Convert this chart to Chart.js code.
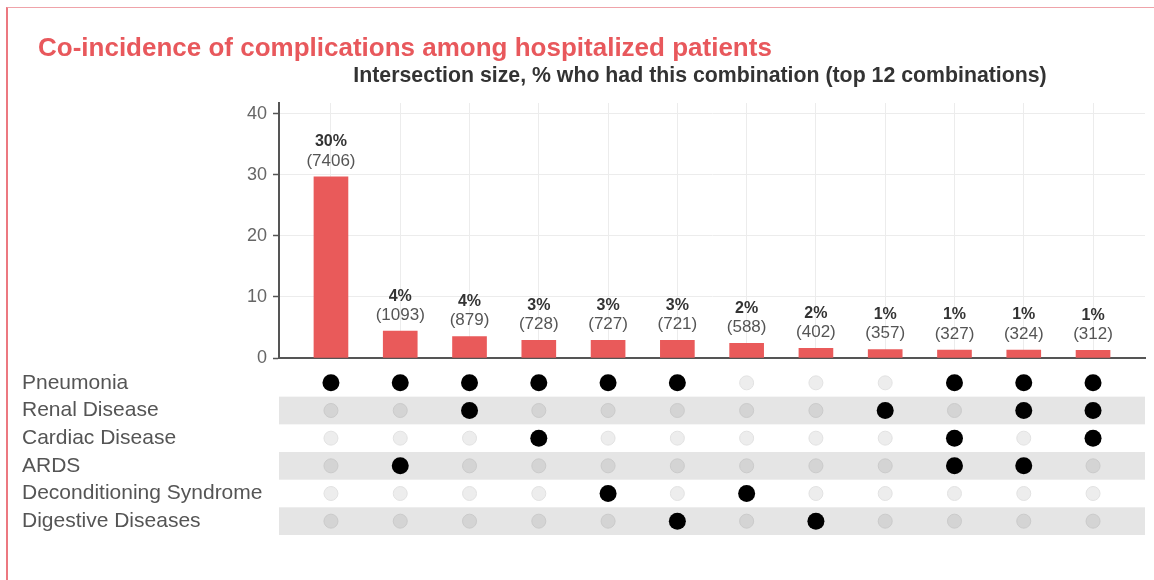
<!DOCTYPE html>
<html>
<head>
<meta charset="utf-8">
<script src="https://cdn.jsdelivr.net/npm/chart.js@4/dist/chart.umd.min.js"></script>
<style>
  html, body { margin: 0; padding: 0; background: #fff; }
  #wrap { position: relative; width: 1154px; height: 580px; overflow: hidden; font-family: "Liberation Sans", Arial, sans-serif; }
  #frame { position: absolute; left: 6px; top: 7px; width: 1160px; height: 600px; border-top: 1px solid #efa3a9; border-left: 2px solid #ec7880; }
  canvas { position: absolute; left: 0; top: 0; }
  #title { position: absolute; left: 38px; top: 34px; font-size: 26px; line-height: 26px; font-weight: bold; color: #e8585c; white-space: nowrap; }
  #subtitle { position: absolute; left: 700px; top: 65px; transform: translateX(-50%); font-size: 21.3px; line-height: 21.3px; font-weight: bold; color: #333; white-space: nowrap; }
</style>
</head>
<body>
<div id="wrap">
  <div id="frame"></div>
  <canvas id="bars" width="1154" height="580"></canvas>
  <canvas id="matrix" width="1154" height="580"></canvas>
  <div id="title">Co-incidence of complications among hospitalized patients</div>
  <div id="subtitle">Intersection size, % who had this combination (top 12 combinations)</div>
</div>
<script>
// ---- data ----
const setNames = ['Pneumonia', 'Renal Disease', 'Cardiac Disease', 'ARDS', 'Deconditioning Syndrome', 'Digestive Diseases'];
const combos = [
  ['Pneumonia'],
  ['Pneumonia', 'ARDS'],
  ['Pneumonia', 'Renal Disease'],
  ['Pneumonia', 'Cardiac Disease'],
  ['Pneumonia', 'Deconditioning Syndrome'],
  ['Pneumonia', 'Digestive Diseases'],
  ['Deconditioning Syndrome'],
  ['Digestive Diseases'],
  ['Renal Disease'],
  ['Pneumonia', 'Cardiac Disease', 'ARDS'],
  ['Pneumonia', 'Renal Disease', 'ARDS'],
  ['Pneumonia', 'Renal Disease', 'Cardiac Disease']
];
const pctValues = [29.7, 4.4, 3.5, 2.9, 2.9, 2.9, 2.4, 1.6, 1.4, 1.3, 1.3, 1.25];
const pctLabels = ['30%', '4%', '4%', '3%', '3%', '3%', '2%', '2%', '1%', '1%', '1%', '1%'];
const counts = [7406, 1093, 879, 728, 727, 721, 588, 402, 357, 327, 324, 312];
const yTicks = [0, 10, 20, 30, 40];

// ---- style ----
const RED = '#e95a5a';
const FONT = '"Liberation Sans", Arial, sans-serif';
Chart.defaults.font.family = FONT;

const barLabels = {
  id: 'barLabels',
  afterDatasetsDraw(chart) {
    const ctx = chart.ctx;
    const meta = chart.getDatasetMeta(0);
    ctx.save();
    ctx.textAlign = 'center';
    ctx.textBaseline = 'middle';
    meta.data.forEach((el, i) => {
      ctx.font = 'bold 16px ' + FONT;
      ctx.fillStyle = '#333';
      ctx.fillText(pctLabels[i], el.x, el.y - 35);
      ctx.font = '17px ' + FONT;
      ctx.fillStyle = '#555';
      ctx.fillText('(' + counts[i] + ')', el.x, el.y - 16);
    });
    ctx.restore();
  }
};

new Chart(document.getElementById('bars'), {
  type: 'bar',
  data: {
    datasets: [{
      data: pctValues.map((v, i) => ({ x: i, y: v })),
      backgroundColor: RED,
      barThickness: 34
    }]
  },
  options: {
    responsive: false,
    animation: false,
    layout: { padding: { left: 0, right: 9, top: 103, bottom: 222 } },
    plugins: { legend: { display: false }, tooltip: { enabled: false } },
    scales: {
      x: {
        type: 'linear', min: -0.75, max: 11.75, offset: false,
        afterBuildTicks: s => { s.ticks = pctValues.map((_, i) => ({ value: i })); },
        ticks: { display: false },
        grid: { color: '#ececec', drawTicks: false, offset: false },
        border: { display: true, color: '#555', width: 2 },
        afterFit: s => { s.height = 0; }
      },
      y: {
        min: 0, max: 41.8,
        afterBuildTicks: s => { s.ticks = yTicks.map(v => ({ value: v })); },
        ticks: { font: { size: 18 }, color: '#666', padding: 6 },
        grid: { color: '#ececec', tickLength: 6, tickColor: '#555', tickWidth: 1.5 },
        border: { color: '#555', width: 2 },
        afterFit: s => { s.width = 279; }
      }
    }
  },
  plugins: [barLabels]
});

// matrix
const filled = [], empty = [];
combos.forEach((members, c) => {
  setNames.forEach((name, r) => {
    (members.includes(name) ? filled : empty).push({ x: c, y: r });
  });
});

const bands = {
  id: 'bands',
  beforeDatasetsDraw(chart) {
    const { ctx, chartArea, scales: { y } } = chart;
    ctx.save();
    ctx.fillStyle = '#e5e5e5';
    setNames.forEach((_, r) => {
      if (r % 2 === 1) {
        const a = y.getPixelForValue(r - 0.5), b = y.getPixelForValue(r + 0.5);
        ctx.fillRect(chartArea.left, Math.min(a, b), chartArea.right - chartArea.left, Math.abs(b - a));
      }
    });
    ctx.restore();
  }
};

new Chart(document.getElementById('matrix'), {
  type: 'scatter',
  data: {
    datasets: [
      {
        data: filled,
        pointRadius: 8.5,
        pointBackgroundColor: '#000',
        pointBorderWidth: 0
      },
      {
        data: empty,
        pointRadius: 7,
        pointBackgroundColor: ctx => (ctx.raw && ctx.raw.y % 2 === 1) ? '#d4d4d4' : '#ededed',
        pointBorderColor: ctx => (ctx.raw && ctx.raw.y % 2 === 1) ? '#cbcbcb' : '#e2e2e2',
        pointBorderWidth: 1
      }
    ]
  },
  options: {
    responsive: false,
    animation: false,
    layout: { padding: { left: 22, right: 9, top: 369, bottom: 45 } },
    plugins: { legend: { display: false }, tooltip: { enabled: false } },
    scales: {
      x: { type: 'linear', min: -0.75, max: 11.75, offset: false, display: false },
      y: {
        type: 'linear', reverse: true, min: -0.5, max: 5.5, offset: false,
        afterBuildTicks: s => { s.ticks = setNames.map((_, i) => ({ value: i })); },
        ticks: { callback: v => setNames[v], crossAlign: 'far', font: { size: 21 }, color: '#555', padding: 0 },
        grid: { display: false, drawTicks: false },
        border: { display: false },
        afterFit: s => { s.width = 257; }
      }
    }
  },
  plugins: [bands]
});
</script>
</body>
</html>
